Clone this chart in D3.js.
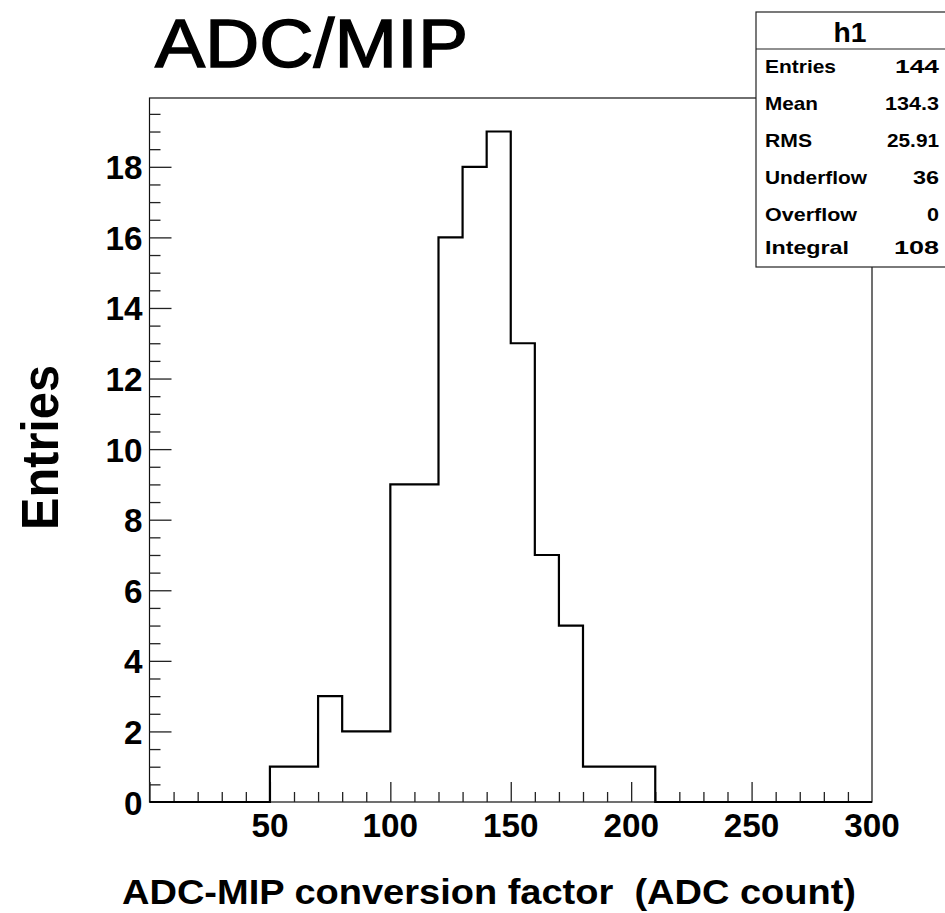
<!DOCTYPE html>
<html lang="en">

<head>
  <meta charset="UTF-8">
  <title>ADC/MIP</title>
  <script src="https://d3js.org/d3.v7.min.js"></script>
  <style>
    body { margin: 0; background: #fff; }
    text { font-family: "Liberation Sans", Arial, Helvetica, sans-serif; fill: #000; white-space: pre; }
  </style>
</head>

<body>
  <div id="chart"></div>

  <script>

    // histogram h1: 30 bins of width 10 from 0 to 300
    const binEdges = d3.range(0, 301, 10);
    const binCounts = [0, 0, 0, 0, 0, 1, 1, 3, 2, 2,
                       9, 9, 16, 18, 19, 13, 7, 5, 1, 1,
                       1, 0, 0, 0, 0, 0, 0, 0, 0, 0];

    const xMajorTicks = [50, 100, 150, 200, 250, 300];
    const yMajorTicks = [0, 2, 4, 6, 8, 10, 12, 14, 16, 18];

    const statsLabels = ['Entries', 'Mean', 'RMS', 'Underflow', 'Overflow', 'Integral'];
    const statsValues = ['144', '134.3', '25.91', '36', '0', '108'];

    const width = 945, height = 913;
    const frame = { left: 149.5, right: 872, top: 98, bottom: 802 };

    const svg = d3.select('#chart').append('svg')
      .attr('width', width)
      .attr('height', height);

    const scaleX = d3.scaleLinear().domain([0, 300]).range([frame.left, frame.right]);
    const scaleY = d3.scaleLinear().domain([0, 19.95]).range([frame.bottom, frame.top]);

    // frame
    svg.append('rect')
      .attr('x', frame.left)
      .attr('y', frame.top)
      .attr('width', frame.right - frame.left)
      .attr('height', frame.bottom - frame.top)
      .attr('fill', 'none')
      .attr('stroke', '#111')
      .attr('stroke-width', 1.2);

    // x ticks, drawn upward from the bottom line
    const xAxisMinor = d3.axisBottom(scaleX)
      .tickValues(d3.range(0, 301, 10).filter(v => v % 50 !== 0))
      .tickSize(-10).tickFormat('');
    const xAxisMajor = d3.axisBottom(scaleX)
      .tickValues([0].concat(xMajorTicks).slice(0, -1))
      .tickSize(-20).tickFormat('');

    [xAxisMinor, xAxisMajor].forEach(ax => {
      const g = svg.append('g')
        .attr('transform', `translate(0,${frame.bottom})`)
        .call(ax);
      g.select('.domain').remove();
      g.selectAll('line').attr('stroke', '#222').attr('stroke-width', 1.3);
    });

    // y ticks, drawn rightward from the left line
    const yAxisMinor = d3.axisLeft(scaleY)
      .tickValues(d3.range(0.5, 19.9, 0.5).filter(v => v % 2 !== 0))
      .tickSize(-11).tickFormat('');
    const yAxisMajor = d3.axisLeft(scaleY)
      .tickValues(yMajorTicks.slice(1))
      .tickSize(-22).tickFormat('');

    [yAxisMinor, yAxisMajor].forEach(ax => {
      const g = svg.append('g')
        .attr('transform', `translate(${frame.left},0)`)
        .call(ax);
      g.select('.domain').remove();
      g.selectAll('line').attr('stroke', '#222').attr('stroke-width', 1.3);
    });

    // tick labels
    svg.append('g').selectAll('text')
      .data(xMajorTicks)
      .enter()
      .append('text')
      .attr('x', d => scaleX(d))
      .attr('y', frame.bottom + 35)
      .attr('text-anchor', 'middle')
      .attr('font-size', 34)
      .attr('font-weight', 'bold')
      .attr('textLength', d => String(d).length * 18.5)
      .attr('lengthAdjust', 'spacingAndGlyphs')
      .text(d => d);

    svg.append('g').selectAll('text')
      .data(yMajorTicks)
      .enter()
      .append('text')
      .attr('x', frame.left - 7)
      .attr('y', d => scaleY(d) + 12.5)
      .attr('text-anchor', 'end')
      .attr('font-size', 34)
      .attr('font-weight', 'bold')
      .attr('textLength', d => String(d).length * 18.5)
      .attr('lengthAdjust', 'spacingAndGlyphs')
      .text(d => d);

    // histogram outline
    const histPoints = [[scaleX(0), scaleY(0)]];
    binCounts.forEach((c, i) => {
      histPoints.push([scaleX(binEdges[i]), scaleY(c)]);
      histPoints.push([scaleX(binEdges[i + 1]), scaleY(c)]);
    });
    histPoints.push([scaleX(300), scaleY(0)]);

    svg.append('path')
      .attr('d', d3.line()(histPoints))
      .attr('fill', 'none')
      .attr('stroke', '#000')
      .attr('stroke-width', 2.2);

    // titles
    svg.append('text')
      .attr('x', 155)
      .attr('y', 67)
      .attr('font-size', 69)
      .attr('stroke', '#000')
      .attr('stroke-width', 1.4)
      .attr('textLength', 313)
      .attr('lengthAdjust', 'spacingAndGlyphs')
      .text('ADC/MIP');

    svg.append('text')
      .attr('x', 122)
      .attr('y', 904)
      .attr('font-size', 35)
      .attr('font-weight', 'bold')
      .attr('textLength', 734)
      .attr('lengthAdjust', 'spacingAndGlyphs')
      .text('ADC-MIP conversion factor  (ADC count)');

    svg.append('text')
      .attr('transform', 'translate(58,530) rotate(-90)')
      .attr('font-size', 52)
      .attr('font-weight', 'bold')
      .attr('textLength', 165)
      .attr('lengthAdjust', 'spacingAndGlyphs')
      .text('Entries');

    // stats box
    const box = { x: 756, y: 12, w: 200, h: 255 };
    svg.append('rect')
      .attr('x', box.x)
      .attr('y', box.y)
      .attr('width', box.w)
      .attr('height', box.h)
      .attr('fill', '#fff')
      .attr('stroke', '#222')
      .attr('stroke-width', 1.2);

    svg.append('line')
      .attr('x1', box.x).attr('x2', box.x + box.w)
      .attr('y1', 49).attr('y2', 49)
      .attr('stroke', '#222')
      .attr('stroke-width', 1.2);

    svg.append('text')
      .attr('x', 850)
      .attr('y', 42)
      .attr('text-anchor', 'middle')
      .attr('font-size', 28)
      .attr('font-weight', 'bold')
      .attr('textLength', 33)
      .attr('lengthAdjust', 'spacingAndGlyphs')
      .text('h1');

    const rowY = [73, 110, 147, 184, 221, 254];
    const labelW = [71, 53, 47, 102, 92, 84];
    const valueW = [44, 54, 52, 26, 12, 45];

    statsLabels.forEach((label, i) => {
      svg.append('text')
        .attr('x', 765)
        .attr('y', rowY[i])
        .attr('font-size', 18.5)
        .attr('font-weight', 'bold')
        .attr('textLength', labelW[i])
        .attr('lengthAdjust', 'spacingAndGlyphs')
        .text(label);
      svg.append('text')
        .attr('x', 939 - valueW[i])
        .attr('y', rowY[i])
        .attr('font-size', 18.5)
        .attr('font-weight', 'bold')
        .attr('textLength', valueW[i])
        .attr('lengthAdjust', 'spacingAndGlyphs')
        .text(statsValues[i]);
    });

  </script>
</body>

</html>
